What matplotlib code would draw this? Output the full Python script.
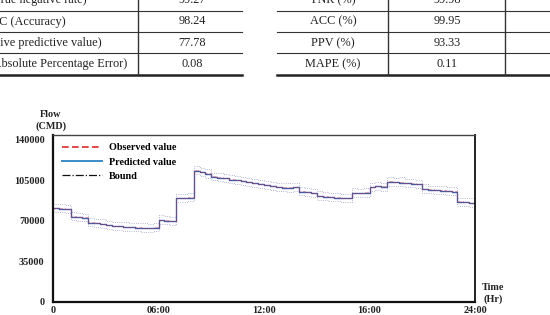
import numpy as np
import matplotlib
matplotlib.use("Agg")
import matplotlib.pyplot as plt
from matplotlib.lines import Line2D

# ---------------- data ----------------
left_labels = ["TNR (True negative rate)", "ACC (Accuracy)",
               "PPV (Positive predictive value)", "MAPE (Mean Absolute Percentage Error)"]
left_values = ["99.27", "98.24", "77.78", "0.08"]
right_labels = ["TNR (%)", "ACC (%)", "PPV (%)", "MAPE (%)"]
right_values = ["99.98", "99.95", "93.33", "0.11"]

observed = [81000, 80500, 80000,
            73800, 73200, 72800,
            68600, 68200, 67400,
            66000, 65500, 65200,
            64800, 64500, 64200,
            64000, 63800, 64200,
            70800, 70300, 69800,
            89800, 89300, 90000,
            113500, 112000, 110800,
            108200, 107500, 106800,
            105800, 105000, 104300,
            103500, 102500, 101500,
            101000, 99800, 99300,
            98800, 98600, 98900,
            95200, 94500, 93800,
            91600, 91000, 90600,
            90200, 89800, 89600,
            94200, 93800, 94300,
            99300, 99800, 99500,
            103800, 103500, 103200,
            102800, 102200, 101600,
            97600, 97000, 96600,
            96200, 95600, 95200,
            86500, 85900, 85600, 85600]

predicted = [80600, 80300, 79800,
             73500, 73000, 72600,
             68300, 67900, 67200,
             65800, 65300, 65000,
             64600, 64300, 64000,
             63700, 63600, 63900,
             70500, 70000, 69600,
             89500, 89100, 89700,
             113000, 111600, 110500,
             107900, 107200, 106500,
             105500, 104800, 104000,
             103200, 102300, 101200,
             100700, 99600, 99000,
             98500, 98400, 98600,
             94900, 94300, 93500,
             91300, 90800, 90400,
             89900, 89600, 89400,
             93900, 93600, 94000,
             99000, 99500, 99300,
             103500, 103300, 102900,
             102500, 102000, 101300,
             97300, 96800, 96400,
             95900, 95400, 95000,
             86200, 85700, 85400, 85400]

upper = [84200, 84300, 83400,
         77200, 76900, 76100,
         72100, 71500, 71000,
         69800, 69000, 68500,
         68400, 68100, 67600,
         67500, 67200, 67800,
         74500, 73800, 73300,
         93200, 92800, 93700,
         117200, 115300, 114600,
         111500, 111200, 110100,
         109400, 108300, 107900,
         107100, 105800, 105200,
         104500, 103400, 102600,
         102400, 102100, 102500,
         98600, 98200, 97100,
         95200, 94400, 94200,
         93500, 93400, 92900,
         97800, 97100, 97900,
         102700, 103600, 102800,
         107600, 106600, 107400,
         106200, 105800, 104900,
         101200, 100300, 100100,
         99500, 99200, 98600,
         89900, 89500, 89100, 89100]

lower = [77600, 77000, 76700,
         70300, 69800, 69400,
         65000, 64800, 63900,
         62500, 62100, 61800,
         61200, 61000, 60700,
         60500, 60300, 60600,
         67300, 66900, 66200,
         86400, 85800, 86500,
         110100, 108600, 107200,
         104800, 104000, 103300,
         102200, 101600, 100700,
         100100, 98900, 98000,
         97500, 96300, 95900,
         95300, 95100, 95400,
         91700, 90900, 90300,
         88100, 87600, 87100,
         86700, 86300, 86100,
         90600, 90400, 90700,
         95900, 96200, 95800,
         100200, 99900, 99700,
         99300, 98600, 98200,
         94100, 93500, 93100,
         92700, 92000, 91700,
         83000, 82400, 82100, 82100]

hours = np.linspace(0, 24, len(observed))
x_ticks = [0, 6, 12, 18, 24]
x_ticklabels = ["0", "06:00", "12:00", "16:00", "24:00"]
y_ticks = [0, 35000, 70000, 105000, 140000]

# ---------------- figure ----------------
W, H = 550, 315
fig = plt.figure(figsize=(W / 100, H / 100), dpi=100)
serif = ["Liberation Serif", "DejaVu Serif"]


def fx(px):
    return px / W


def fy(py):
    return 1 - py / H


# ---- table fragment at top ----
row_y = [0, 21.5, 43, 64]
hlines_y = [11, 32, 53]
for yy in hlines_y:
    fig.add_artist(Line2D([fx(0), fx(242)], [fy(yy), fy(yy)], color="#333333", lw=0.8))
    fig.add_artist(Line2D([fx(277), fx(550)], [fy(yy), fy(yy)], color="#333333", lw=0.8))
fig.add_artist(Line2D([fx(0), fx(242)], [fy(74.5), fy(74.5)], color="#222222", lw=1.8))
fig.add_artist(Line2D([fx(277), fx(550)], [fy(75), fy(75)], color="#222222", lw=1.8))
fig.add_artist(Line2D([fx(138), fx(138)], [fy(0), fy(74.5)], color="#333333", lw=1.0))
fig.add_artist(Line2D([fx(388), fx(388)], [fy(0), fy(75)], color="#333333", lw=1.0))
fig.add_artist(Line2D([fx(505), fx(505)], [fy(0), fy(75)], color="#333333", lw=1.0))

tfs = 8.8
for yy, lab, val in zip(row_y, left_labels, left_values):
    fig.text(fx(24), fy(yy), lab, ha="center", va="center", fontsize=tfs,
             family=serif, color="#222222")
    fig.text(fx(192), fy(yy), val, ha="center", va="center", fontsize=tfs,
             family=serif, color="#222222")
for yy, lab, val in zip(row_y, right_labels, right_values):
    fig.text(fx(333), fy(yy), lab, ha="center", va="center", fontsize=tfs,
             family=serif, color="#222222")
    fig.text(fx(447), fy(yy), val, ha="center", va="center", fontsize=tfs,
             family=serif, color="#222222")

# ---- chart ----
ax = fig.add_axes([fx(53), fy(301.5), fx(475) - fx(53), fy(135) - fy(301.5)])
ax.plot(hours, upper, color="#a0a0c8", lw=0.6, ls=":", drawstyle="steps-post")
ax.plot(hours, lower, color="#a0a0c8", lw=0.6, ls=":", drawstyle="steps-post")
ax.plot(hours, predicted, color="#4a5aa0", lw=1.0, drawstyle="steps-post")
ax.plot(hours, observed, color="#c03050", lw=0.7, ls=(0, (4, 2)), alpha=0.4,
        drawstyle="steps-post")

ax.set_xlim(0, 24)
ax.set_ylim(0, 144000)
ax.set_xticks(x_ticks)
ax.set_xticklabels(x_ticklabels)
ax.set_yticks(y_ticks)
ax.set_yticklabels([str(v) for v in y_ticks])
ax.tick_params(axis="x", length=0, pad=3, labelsize=7.3)
ax.tick_params(axis="y", length=0, pad=6, labelsize=7.3)
for lab in ax.get_xticklabels() + ax.get_yticklabels():
    lab.set_family(serif)
    lab.set_fontweight("bold")
    lab.set_color("#222222")

for side in ["left", "bottom"]:
    ax.spines[side].set_linewidth(1.6)
    ax.spines[side].set_color("#111111")
ax.spines["top"].set_linewidth(1.0)
ax.spines["top"].set_color("#444444")
ax.spines["right"].set_linewidth(1.4)
ax.spines["right"].set_color("#222222")

handles = [
    Line2D([], [], color="#e02828", lw=1.2, ls=(0, (4, 2))),
    Line2D([], [], color="#3c8cc8", lw=1.4),
    Line2D([], [], color="#111111", lw=0.9, ls="-."),
]
leg = ax.legend(handles, ["Observed value", "Predicted value", "Bound"],
                loc="upper left", frameon=False, handlelength=3.9,
                handletextpad=0.75, labelspacing=0.5,
                bbox_to_anchor=(0.0, 1.005),
                prop={"family": serif, "weight": "bold", "size": 7.3})

fig.text(fx(51), fy(120.5), "Flow\n(CMD)", ha="center", va="center", fontsize=7.3,
         family=serif, fontweight="bold", color="#222222", linespacing=1.35)
fig.text(fx(493), fy(293.5), "Time\n(Hr)", ha="center", va="center", fontsize=7.3,
         family=serif, fontweight="bold", color="#222222", linespacing=1.35)

fig.savefig("out.png", dpi=100)
